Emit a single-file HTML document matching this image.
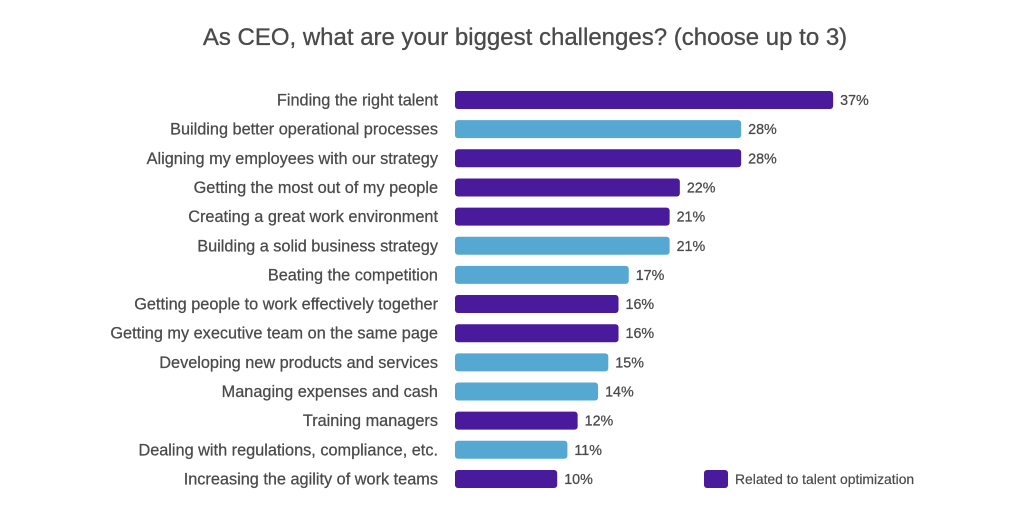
<!DOCTYPE html>
<html><head><style>
body{margin:0;background:#fff;width:1024px;height:522px;overflow:hidden;font-family:"Liberation Sans",sans-serif;}
</style></head><body>
<svg width="1024" height="522" xmlns="http://www.w3.org/2000/svg" font-family="Liberation Sans, sans-serif">
<text x="525" y="45" text-anchor="middle" font-size="24" fill="#4a4a4a" stroke="#4a4a4a" stroke-width="0.3">As CEO, what are your biggest challenges? (choose up to 3)</text>
<g id="rows" font-size="16.3" fill="#4a4a4a" stroke="#4a4a4a" stroke-width="0.25"></g>
<rect x="704" y="470" width="24" height="18" rx="3" fill="#4a1a9c"/>
<text x="735" y="484" font-size="13.9" fill="#4a4a4a" stroke="#4a4a4a" stroke-width="0.2">Related to talent optimization</text>
</svg>
<script>
var d=[["Finding the right talent",37,1],["Building better operational processes",28,0],["Aligning my employees with our strategy",28,1],["Getting the most out of my people",22,1],["Creating a great work environment",21,1],["Building a solid business strategy",21,0],["Beating the competition",17,0],["Getting people to work effectively together",16,1],["Getting my executive team on the same page",16,1],["Developing new products and services",15,0],["Managing expenses and cash",14,0],["Training managers",12,1],["Dealing with regulations, compliance, etc.",11,0],["Increasing the agility of work teams",10,1]];
var g=document.getElementById('rows'),s='';
d.forEach(function(r,i){var c=100+i*29.15,w=r[1]*10.22;
s+='<text x="438" y="'+(c+5.5)+'" text-anchor="end">'+r[0]+'</text>';
s+='<rect x="455" y="'+(c-9)+'" width="'+w+'" height="18" rx="3" stroke="none" fill="'+(r[2]?'#4a1a9c':'#55a8d2')+'"/>';
s+='<text x="'+(455+w+7)+'" y="'+(c+5)+'" font-size="14.3">'+r[1]+'%</text>';});
g.innerHTML=s;
</script>
</body></html>
